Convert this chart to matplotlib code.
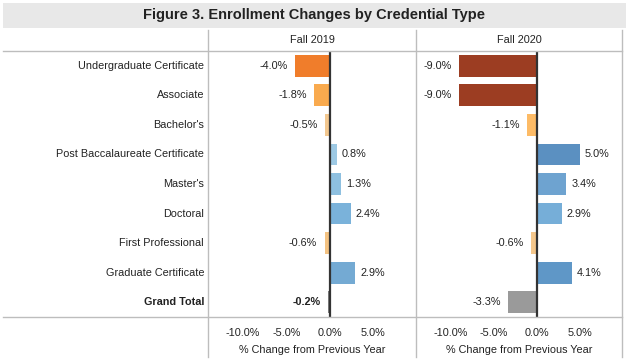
import matplotlib.pyplot as plt
from matplotlib.lines import Line2D
from matplotlib.patches import Rectangle

plt.rcParams['font.family'] = ['Liberation Sans', 'DejaVu Sans']

# ---- data ----
categories = ['Undergraduate Certificate', 'Associate', "Bachelor's",
              'Post Baccalaureate Certificate', "Master's", 'Doctoral',
              'First Professional', 'Graduate Certificate', 'Grand Total']
fall2019 = [-4.0, -1.8, -0.5, 0.8, 1.3, 2.4, -0.6, 2.9, -0.2]
fall2020 = [-9.0, -9.0, -1.1, 5.0, 3.4, 2.9, -0.6, 4.1, -3.3]
colors2019 = ['#F07D2B', '#F9AA4E', '#F3C890', '#9DC9E4', '#8EC0E0', '#7AB2DA',
              '#F4C383', '#74AAD3', '#7F7F7F']
colors2020 = ['#9C3D22', '#9C3D22', '#FDBB66', '#5B90C1', '#6EA3D0', '#76AED8',
              '#F5C78B', '#5F97C7', '#9A9A9A']
panel_titles = ['Fall 2019', 'Fall 2020']
ticks = [-10, -5, 0, 5]

W, H = 629, 361
fig = plt.figure(figsize=(W / 100, H / 100), dpi=100)


def fx(px):
    return px / W


def fy(py):
    return 1 - py / H


grid_col = '#BDBDBD'
fs = 7.8

# title band
fig.patches.append(Rectangle((fx(3), fy(28)), fx(623), 25 / H, transform=fig.transFigure,
                             facecolor='#E8E8E8', edgecolor='none', zorder=0))
fig.text(fx(314), fy(15.5), 'Figure 3. Enrollment Changes by Credential Type',
         ha='center', va='center', fontsize=10.5, fontweight='bold', color='#222222')

# grid lines
for x in [208, 416, 622]:
    fig.add_artist(Line2D([fx(x), fx(x)], [fy(30), fy(357)], transform=fig.transFigure,
                          color=grid_col, lw=1))
for y in [51, 317]:
    fig.add_artist(Line2D([fx(3), fx(622)], [fy(y), fy(y)], transform=fig.transFigure,
                          color=grid_col, lw=1))

# row labels
top, bottom = 51, 317
step = (bottom - top) / len(categories)
for i, cat in enumerate(categories):
    fig.text(fx(204), fy(top + step * (i + 0.5)), cat, ha='right', va='center',
             fontsize=fs, color='#222222',
             fontweight='bold' if cat == 'Grand Total' else 'normal')

panels = [(208, 416, fall2019, colors2019), (416, 622, fall2020, colors2020)]
for k, (l, r, vals, cols) in enumerate(panels):
    ax = fig.add_axes([fx(l), fy(bottom), (r - l) / W, (bottom - top) / H])
    ax.set_facecolor('none')
    y = list(range(len(categories)))
    ax.barh(y, vals, height=0.74, color=cols, zorder=2)
    ax.axvline(0, color='#333333', lw=1.6, zorder=3)
    ax.set_xlim(-14, 9.9)
    ax.set_ylim(len(categories) - 0.5, -0.5)
    ax.set_yticks([])
    ax.set_xticks(ticks)
    ax.set_xticklabels([f'{t:.1f}%' for t in ticks], fontsize=fs, color='#222222')
    ax.tick_params(axis='x', length=0, pad=8)
    for s in ax.spines.values():
        s.set_visible(False)
    ax.set_xlabel('% Change from Previous Year', fontsize=fs, color='#222222', labelpad=5)
    for i, v in enumerate(vals):
        bold = categories[i] == 'Grand Total' and k == 0
        if v < 0:
            ax.text(v - 0.85, i, f'{v:.1f}%', ha='right', va='center', fontsize=fs,
                    color='#222222', fontweight='bold' if bold else 'normal')
        else:
            ax.text(v + 0.6, i, f'{v:.1f}%', ha='left', va='center', fontsize=fs,
                    color='#222222')
    fig.text(fx((l + r) / 2), fy(40), panel_titles[k], ha='center', va='center',
             fontsize=fs, color='#222222')

fig.savefig('out.png', dpi=100)
